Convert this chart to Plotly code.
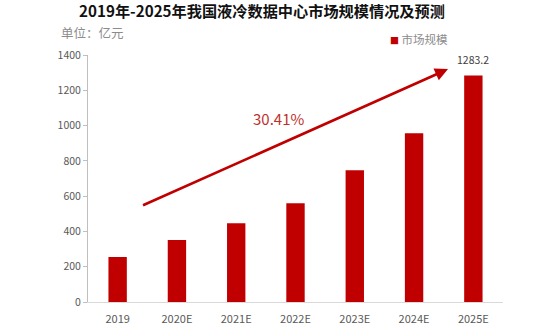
import plotly.graph_objects as go

# Liquid-cooled data center market size in China, 2019-2025 (100 million yuan)
years = ["2019", "2020E", "2021E", "2022E", "2023E", "2024E", "2025E"]
market_size = [255, 351, 447, 560, 747, 957, 1283.2]
cagr_label = "30.41%"
series_name = "市场规模"
unit_label = "单位：亿元"
title_text = "2019年-2025年我国液冷数据中心市场规模情况及预测"

RED = "#C00000"
CJK = "Noto Sans CJK SC"

fig = go.Figure()
fig.add_trace(go.Bar(
    x=years,
    y=market_size,
    name=series_name,
    marker=dict(color=RED, line=dict(width=0)),
    width=0.31,
    showlegend=False,
))

annotations = [
    # unit note
    dict(text=unit_label, xref="paper", yref="paper", x=-0.07, y=1.09,
         xanchor="left", yanchor="middle", showarrow=False,
         font=dict(family=CJK, size=12.5, color="#8c8c8c")),
    # legend entry
    dict(text=f'<span style="font-size:9px;color:{RED}">■</span> {series_name}',
         xref="paper", yref="paper", x=0.722, y=1.063,
         xanchor="left", yanchor="middle", showarrow=False,
         font=dict(family=CJK, size=11.5, color="#8c8c8c")),
    # growth arrow
    dict(text="", xref="x domain", yref="y domain", axref="x domain", ayref="y domain",
         x=0.8675, y=0.943, ax=0.129, ay=0.389,
         showarrow=True, arrowhead=2, arrowsize=1, arrowwidth=2.6, arrowcolor=RED),
    # growth rate label
    dict(text=cagr_label, xref="x domain", yref="y domain", x=0.458, y=0.744,
         xanchor="center", yanchor="middle", showarrow=False,
         font=dict(family=CJK, size=15, color="#C0302A")),
    # value label on the last bar
    dict(text=f"{market_size[-1]}", x=years[-1], y=market_size[-1],
         xanchor="center", yanchor="bottom", yshift=7, showarrow=False,
         font=dict(family=CJK, size=10.5, color="#404040")),
]

fig.update_layout(
    width=554, height=331,
    margin=dict(l=88, r=51, t=55, b=29),
    paper_bgcolor="white", plot_bgcolor="white",
    title=dict(text=f"<b>{title_text}</b>", x=262 / 554, xanchor="center",
               y=1 - 12 / 331, yanchor="middle", yref="container",
               font=dict(family=CJK, size=15.2, color="#111111")),
    annotations=annotations,
    showlegend=False,
    bargap=0.69,
)

fig.update_xaxes(
    type="category", automargin=False,
    showline=True, linecolor="#d9d9d9", linewidth=1,
    ticks="", showgrid=False, zeroline=False, ticklabelstandoff=7,
    tickfont=dict(family=CJK, size=11, color="#595959"),
)
fig.update_yaxes(
    range=[0, 1400], dtick=200, automargin=False,
    showline=True, linecolor="#bfbfbf", linewidth=1,
    ticks="outside", ticklen=4, tickcolor="#bfbfbf",
    showgrid=False, zeroline=False,
    tickfont=dict(family=CJK, size=10.5, color="#595959"),
)

fig.write_html("out.html")
